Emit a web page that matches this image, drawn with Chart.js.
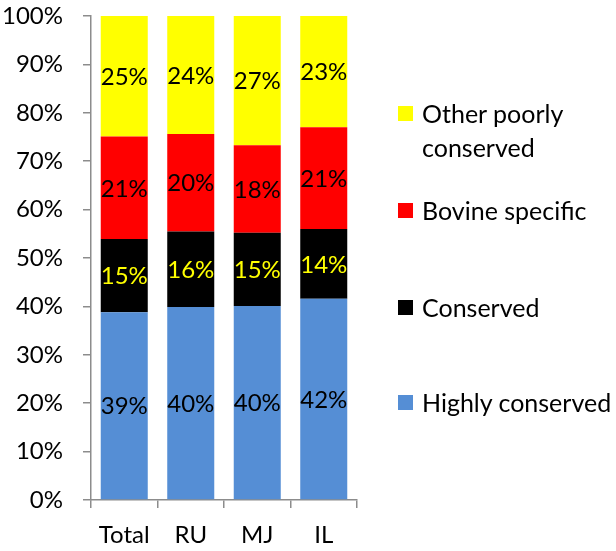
<!DOCTYPE html>
<html lang="en">

<head>
    <meta charset="utf-8" />
    <title>Conservation by group</title>
    <script src="https://cdn.jsdelivr.net/npm/chart.js"></script>
    <style>
        html, body { margin: 0; padding: 0; background: #fff; }
        #wrap { position: relative; width: 616px; height: 551px; }
        #legend { position: absolute; left: 398px; top: 0; font-family: Lato, sans-serif; font-size: 25px; color: #000; }
        #legend .item { position: absolute; left: 0; width: 218px; line-height: 34px; }
        #legend .box { position: absolute; left: 0; top: 10px; width: 15px; height: 15px; }
        #legend .txt { margin-left: 24px; white-space: nowrap; }
        #legend .item:nth-child(1) { top: 96px; }
        #legend .item:nth-child(2) { top: 193px; }
        #legend .item:nth-child(3) { top: 290px; }
        #legend .item:nth-child(4) { top: 385px; }
    </style>
</head>

<body>
    <div id="wrap">
        <canvas id="chart" width="616" height="551"></canvas>
        <div id="legend"></div>
    </div>

    <script>
        const categories = ['Total', 'RU', 'MJ', 'IL'];
        const highlyConserved = [38.8, 39.9, 40.1, 41.6];
        const conserved = [15.1, 15.6, 15.1, 14.4];
        const bovineSpecific = [21.2, 20.1, 18.1, 21.0];
        const otherPoorly = [24.9, 24.4, 26.7, 23.0];
        const yTicks = [0, 10, 20, 30, 40, 50, 60, 70, 80, 90, 100];

        const seriesNames = ['Highly conserved', 'Conserved', 'Bovine specific', ['Other poorly', 'conserved']];
        const seriesData = [highlyConserved, conserved, bovineSpecific, otherPoorly];
        const colors = ['#558ed5', '#000000', '#ff0000', '#ffff00'];
        const labelColors = ['#000000', '#ffff00', '#000000', '#000000'];
        const fontFamily = 'Lato, sans-serif';

        // labels in the middle of each segment, like the Excel original
        const segmentLabels = {
            id: 'segmentLabels',
            afterDatasetsDraw(chart) {
                const ctx = chart.ctx;
                ctx.save();
                ctx.font = '24px ' + fontFamily;
                ctx.textAlign = 'center';
                ctx.textBaseline = 'middle';
                chart.data.datasets.forEach((ds, i) => {
                    const meta = chart.getDatasetMeta(i);
                    meta.data.forEach((bar, j) => {
                        ctx.fillStyle = labelColors[i];
                        ctx.fillText(Math.round(ds.data[j]) + '%', bar.x, (bar.y + bar.base) / 2 + 1);
                    });
                });
                ctx.restore();
            }
        };

        new Chart(document.getElementById('chart'), {
            type: 'bar',
            data: {
                labels: categories,
                datasets: seriesData.map((d, i) => ({
                    label: seriesNames[i],
                    data: d,
                    backgroundColor: colors[i],
                    borderWidth: 0,
                    categoryPercentage: 1,
                    barPercentage: 0.707
                }))
            },
            options: {
                responsive: false,
                animation: false,
                layout: { padding: { top: 16, right: 259, left: 0, bottom: 0 } },
                plugins: {
                    legend: { display: false },
                    tooltip: { enabled: false }
                },
                scales: {
                    x: {
                        stacked: true,
                        offset: true,
                        afterFit: s => { s.height = 51; s.paddingLeft = 0; s.paddingRight = 0; },
                        border: { color: '#8c8c8c', width: 1.5 },
                        grid: { offset: true, drawOnChartArea: false, tickLength: 8, color: '#8c8c8c', lineWidth: 1.5 },
                        ticks: { color: '#000', padding: 13, font: { family: fontFamily, size: 24 } }
                    },
                    y: {
                        stacked: true,
                        min: 0,
                        max: 100,
                        afterFit: s => { s.width = 91; s.paddingTop = 0; s.paddingBottom = 0; },
                        afterBuildTicks: s => { s.ticks = yTicks.map(v => ({ value: v })); },
                        border: { color: '#8c8c8c', width: 1.5 },
                        grid: { drawOnChartArea: false, tickLength: 8, color: '#8c8c8c', lineWidth: 1.5 },
                        ticks: {
                            color: '#000',
                            padding: 20,
                            font: { family: fontFamily, size: 24 },
                            callback: v => v + '%'
                        }
                    }
                }
            },
            plugins: [segmentLabels]
        });

        // legend on the right, top entry first
        const legend = document.getElementById('legend');
        for (let i = seriesNames.length - 1; i >= 0; i--) {
            const item = document.createElement('div');
            item.className = 'item';
            const box = document.createElement('span');
            box.className = 'box';
            box.style.background = colors[i];
            const txt = document.createElement('div');
            txt.className = 'txt';
            const name = seriesNames[i];
            txt.innerHTML = Array.isArray(name) ? name.join('<br>') : name;
            item.appendChild(box);
            item.appendChild(txt);
            legend.appendChild(item);
        }
    </script>
</body>

</html>
